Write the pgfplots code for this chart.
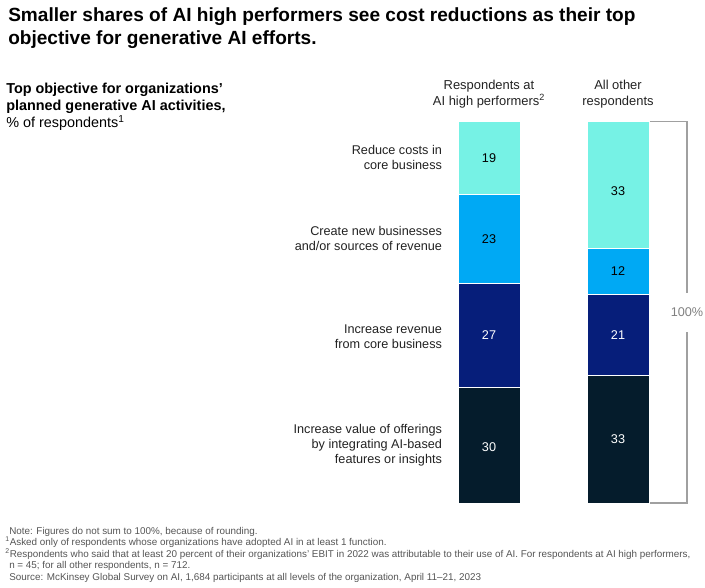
\documentclass[border=0pt]{standalone}
\usepackage{pgfplots}
\pgfplotsset{compat=1.18}
\usepackage{fontspec}
\setmainfont{Liberation Sans}
\definecolor{caqua}{HTML}{76F2E5}
\definecolor{cblue}{HTML}{00A9F4}
\definecolor{cnavy}{HTML}{061E7A}
\definecolor{cdark}{HTML}{051C2C}
\definecolor{ctext}{HTML}{222222}
\definecolor{cnote}{HTML}{555555}
\definecolor{cbrack}{HTML}{A0A0A0}
\begin{document}
\begin{tikzpicture}[x=0.75pt,y=-0.75pt]
\path (0,0) rectangle (705,587);
\node[anchor=north west, inner sep=0, align=left, text=black,
  font=\fontsize{14.3}{17.25}\selectfont\bfseries] at (8,7)
  {Smaller shares of AI high performers see cost reductions as their top\\objective for generative AI efforts.};
\node[anchor=north west, inner sep=0, align=left, text=black,
  font=\fontsize{10.8}{12.75}\selectfont] at (6,83)
  {\textbf{Top objective for organizations'}\\\textbf{planned generative AI activities,}\\\% of respondents\textsuperscript{1}};
\begin{axis}[
  at={(343.5pt,-377.25pt)}, anchor=south west,
  scale only axis, width=143.25pt, height=286.5pt,
  xmin=-0.2403, xmax=1.2403, ymin=0, ymax=99,
  ybar stacked, bar width=46.5pt,
  axis line style={draw=none},
  major tick length=0pt,
  xtick={0,1},
  xticklabels={{Respondents at\\AI high performers\textsuperscript{2}},{All other\\respondents}},
  xticklabel pos=upper,
  xticklabel style={align=center, text=ctext, font=\fontsize{9.7}{12}\selectfont, yshift=6pt},
  ytick={15,43,68.5,89.5},
  yticklabels={{Increase value of offerings\\by integrating AI-based\\features or insights},
    {Increase revenue\\from core business},
    {Create new businesses\\and/or sources of revenue},
    {Reduce costs in\\core business}},
  yticklabel style={align=right, text=ctext, font=\fontsize{9.5}{11.25}\selectfont, xshift=-8.5pt},
  clip=false,
]
\addplot[fill=cdark, draw=white, line width=0.6pt] coordinates {(0,30) (1,33)};
\addplot[fill=cnavy, draw=white, line width=0.6pt] coordinates {(0,27) (1,21)};
\addplot[fill=cblue, draw=white, line width=0.6pt] coordinates {(0,23) (1,12)};
\addplot[fill=caqua, draw=white, line width=0.6pt] coordinates {(0,19) (1,33)};
\end{axis}
\begin{axis}[
  at={(343.5pt,-377.25pt)}, anchor=south west,
  scale only axis, width=143.25pt, height=286.5pt,
  xmin=-0.2403, xmax=1.2403, ymin=0, ymax=99,
  hide axis, clip=false,
]
\addplot[draw=none, mark=none, nodes near coords, point meta=explicit symbolic,
  nodes near coords style={anchor=center, text=white, font=\fontsize{9.5}{11}\selectfont}]
  coordinates {(0,14.5)[30] (1,16.5)[33] (0,43.5)[27] (1,43.5)[21]};
\addplot[draw=none, mark=none, nodes near coords, point meta=explicit symbolic,
  nodes near coords style={anchor=center, text=black, font=\fontsize{9.5}{11}\selectfont}]
  coordinates {(0,68.5)[23] (1,60)[12] (0,89.5)[19] (1,80.8)[33]};
\end{axis}
\draw[cbrack, line width=0.8pt] (650,121.7) -- (687,121.7) -- (687,293);
\draw[cbrack, line width=0.8pt] (687,332) -- (687,503) -- (650,503);
\node[text=cbrack!80!black, font=\fontsize{9.5}{11}\selectfont, inner sep=0] at (687,312) {100\%};
\node[anchor=north west, inner sep=0, align=left, text=cnote,
  font=\fontsize{7.4}{8.6}\selectfont] at (5,527)
  {\hspace{3pt}Note: Figures do not sum to 100\%, because of rounding.\\
   \textsuperscript{1}Asked only of respondents whose organizations have adopted AI in at least 1 function.\\
   \textsuperscript{2}Respondents who said that at least 20 percent of their organizations' EBIT in 2022 was attributable to their use of AI. For respondents at AI high performers,\\
   \hspace{3pt}n = 45; for all other respondents, n = 712.\\
   \hspace{3pt}Source: McKinsey Global Survey on AI, 1,684 participants at all levels of the organization, April 11–21, 2023};
\end{tikzpicture}
\end{document}
